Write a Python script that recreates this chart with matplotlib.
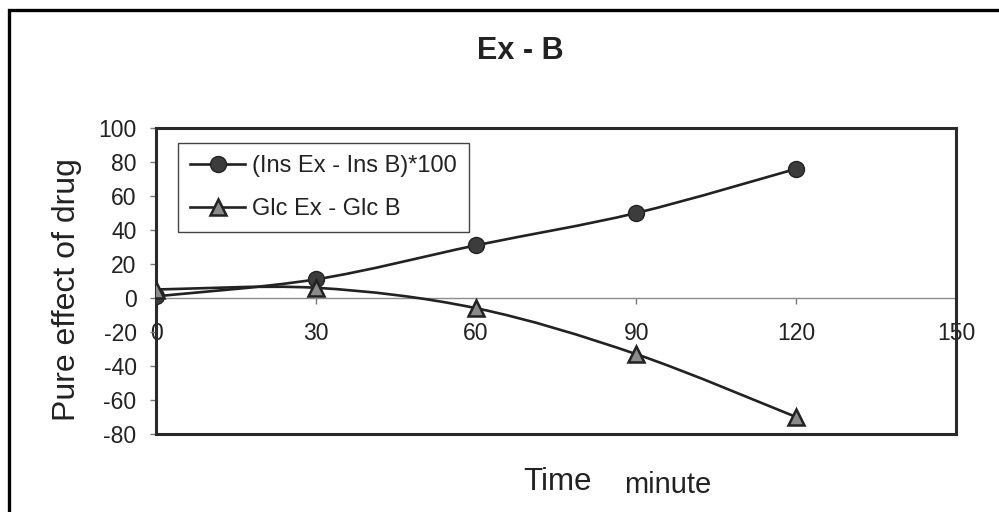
import matplotlib
matplotlib.use("Agg")
import matplotlib.pyplot as plt
from matplotlib.path import Path
from matplotlib.patches import PathPatch, Rectangle
from matplotlib.lines import Line2D

plt.rcParams['font.family'] = ['Liberation Sans', 'DejaVu Sans']
plt.rcParams['axes.unicode_minus'] = False

# data
time = [0, 30, 60, 90, 120]
ins_diff = [1, 11, 31, 50, 76]      # (Ins Ex - Ins B)*100
glc_diff = [5, 6, -6, -33, -70]     # Glc Ex - Glc B
x_ticks = [0, 30, 60, 90, 120, 150]
y_ticks = [-80, -60, -40, -20, 0, 20, 40, 60, 80, 100]
ins_label = "(Ins Ex - Ins B)*100"
glc_label = "Glc Ex - Glc B"


def smooth_path(xs, ys):
    # excel-like smoothed line: catmull-rom turned into bezier segments
    pts = list(zip(xs, ys))
    verts = [pts[0]]
    codes = [Path.MOVETO]
    n = len(pts)
    for i in range(n - 1):
        p0 = pts[i - 1] if i > 0 else pts[i]
        p1 = pts[i]
        p2 = pts[i + 1]
        p3 = pts[i + 2] if i + 2 < n else pts[i + 1]
        c1 = (p1[0] + (p2[0] - p0[0]) / 6, p1[1] + (p2[1] - p0[1]) / 6)
        c2 = (p2[0] - (p3[0] - p1[0]) / 6, p2[1] - (p3[1] - p1[1]) / 6)
        verts += [c1, c2, p2]
        codes += [Path.CURVE4] * 3
    return Path(verts, codes)


fig = plt.figure(figsize=(9.99, 5.12), dpi=100)
ax = fig.add_axes([0.1562, 0.1523, 0.801, 0.5977])

line_col = '#222222'
for ys in (ins_diff, glc_diff):
    ax.add_patch(PathPatch(smooth_path(time, ys), fill=False,
                           edgecolor=line_col, linewidth=1.9, zorder=3))

ax.plot(time, ins_diff, linestyle='none', marker='o', markersize=11.5,
        markerfacecolor='#3c3c3c', markeredgecolor='#222222', zorder=4)
ax.plot(time, glc_diff, linestyle='none', marker='^', markersize=11,
        markerfacecolor='#8a8a8a', markeredgecolor='#222222',
        markeredgewidth=1.8, zorder=4)

ax.set_xlim(0, 150)
ax.set_ylim(-80, 100)
ax.set_yticks(y_ticks)
ax.tick_params(axis='y', direction='out', length=4, width=1, color='#777777',
               labelsize=16.5, labelcolor='#222222', pad=10)
ax.tick_params(axis='x', bottom=False, labelbottom=False)
for sp in ax.spines.values():
    sp.set_color('#2a2a2a')
    sp.set_linewidth(2.2)

# category axis crossing at y = 0
sec = ax.secondary_xaxis(80 / 180)
sec.set_xticks(x_ticks)
sec.spines['bottom'].set_color('#8c8c8c')
sec.spines['bottom'].set_linewidth(1.0)
sec.tick_params(axis='x', direction='out', length=4, width=1, color='#777777',
                labelsize=16.5, labelcolor='#222222', pad=13)

handles = [
    Line2D([], [], color=line_col, linewidth=1.9, marker='o', markersize=11.5,
           markerfacecolor='#3c3c3c', markeredgecolor='#222222'),
    Line2D([], [], color=line_col, linewidth=1.9, marker='^', markersize=11,
           markerfacecolor='#8a8a8a', markeredgecolor='#222222',
           markeredgewidth=1.8),
]
leg = ax.legend(handles, [ins_label, glc_label], loc='upper left',
                bbox_to_anchor=(0.0275, 0.951), borderaxespad=0,
                fontsize=17, handlelength=2.35, handletextpad=0.3,
                borderpad=0.5, labelspacing=0.9, fancybox=False,
                framealpha=1, edgecolor='#444444')
leg.get_frame().set_linewidth(1.0)
for t in leg.get_texts():
    t.set_color('#222222')

fig.text(520 / 999, 1 - 51 / 512, "Ex - B", ha='center', va='center',
         fontsize=22, fontweight='bold', color='#222222')
fig.text(67 / 999, 1 - 290 / 512, "Pure effect of drug", rotation=90,
         ha='center', va='center', fontsize=23, color='#222222')
fig.text(558 / 999, 1 - 490 / 512, "Time", ha='center', va='baseline',
         fontsize=22.5, color='#222222')
fig.text(668 / 999, 1 - 493 / 512, "minute", ha='center', va='baseline',
         fontsize=21, color='#222222')

# outer frame, only left and top edges fall inside the picture
fig.add_artist(Rectangle((9 / 999, -0.2), 1.5, 0.2 + 1 - 10 / 512,
                         transform=fig.transFigure, fill=False,
                         edgecolor='black', linewidth=2.4, clip_on=False))

fig.savefig("out.png", dpi=100)
